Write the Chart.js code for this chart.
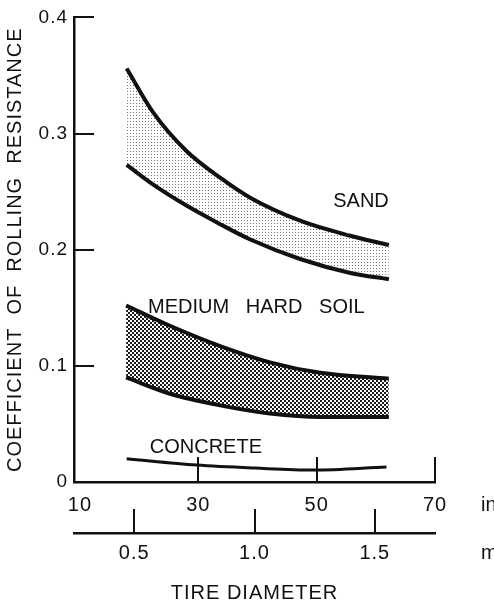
<!DOCTYPE html>
<html>
<head>
<meta charset="utf-8">
<script src="https://cdn.jsdelivr.net/npm/chart.js@4.4.1/dist/chart.umd.min.js"></script>
<style>
  html, body { margin: 0; padding: 0; background: #fff; }
</style>
</head>
<body>
<canvas id="chart" width="494" height="605"></canvas>
<script>
// values: tire diameter (in.) vs coefficient of rolling resistance
const sandDiam = [17.9, 22.4, 28.0, 33.7, 38.7, 47.2, 55.7, 62.2];
const sandHigh = [0.356, 0.318, 0.285, 0.262, 0.245, 0.225, 0.212, 0.204];
const sandLow = [0.273, 0.256, 0.238, 0.222, 0.209, 0.192, 0.180, 0.1745];

const soilDiam = [17.8, 25.2, 33.7, 42.1, 50.6, 62.2];
const soilHigh = [0.152, 0.1345, 0.117, 0.103, 0.094, 0.089];
const soilLow = [0.090, 0.076, 0.066, 0.059, 0.056, 0.056];

const concreteDiam = [17.9, 29.7, 39.6, 49.4, 61.8];
const concrete = [0.020, 0.0146, 0.012, 0.0103, 0.013];

const yTicks = [0, 0.1, 0.2, 0.3, 0.4];
const yTickLabels = ['0', '0.1', '0.2', '0.3', '0.4'];
const inchTicks = [10, 30, 50, 70];
const meterTicks = [0.5, 1.0, 1.5];
const meterTickLabels = ['0.5', '1.0', '1.5'];

const curveLabels = [
  { text: 'SAND', x: 52.8, y: 0.2415 },
  { text: 'MEDIUM   HARD   SOIL', x: 21.5, y: 0.150 },
  { text: 'CONCRETE', x: 21.8, y: 0.030 }
];

const ink = '#111';
const font = "'Liberation Sans', Arial, sans-serif";

document.addEventListener('DOMContentLoaded', () => {
  const canvas = document.getElementById('chart');
  const ctx = canvas.getContext('2d');

  // screen-tone fills
  const makePattern = (size, cells, color) => {
    const c = document.createElement('canvas');
    c.width = c.height = size;
    const g = c.getContext('2d');
    g.fillStyle = '#fff';
    g.fillRect(0, 0, size, size);
    g.fillStyle = color;
    cells.forEach(([x, y, w, h]) => g.fillRect(x, y, w, h));
    return ctx.createPattern(c, 'repeat');
  };
  const sandTone = makePattern(3, [[1, 1, 1, 1]], '#777');
  const soilTone = makePattern(4, [[0, 0, 2, 2], [2, 2, 2, 2]], '#1a1a1a');

  const pts = (xs, ys) => xs.map((x, i) => ({ x, y: ys[i] }));

  const line = (data, width, fill, bg) => ({
    data,
    borderColor: ink,
    borderWidth: width,
    pointRadius: 0,
    cubicInterpolationMode: 'monotone',
    fill,
    backgroundColor: bg || 'transparent'
  });

  // ticks pointing inward, unit labels and curve names
  const axisMarks = {
    id: 'axisMarks',
    beforeDraw(chart) { chart.ctx.letterSpacing = '1px'; },
    afterDraw(chart) {
      const { ctx, scales: { x, x2, y } } = chart;
      ctx.save();
      ctx.letterSpacing = '0px';
      ctx.strokeStyle = ink;
      ctx.lineWidth = 2;
      ctx.beginPath();
      y.ticks.forEach(t => {
        const py = Math.round(y.getPixelForValue(t.value));
        ctx.moveTo(y.right, py);
        ctx.lineTo(y.right + 20, py);
      });
      x.ticks.slice(1).forEach(t => {
        const px = Math.round(x.getPixelForValue(t.value));
        ctx.moveTo(px, x.top);
        ctx.lineTo(px, x.top - 25);
      });
      x2.ticks.forEach(t => {
        const px = Math.round(x2.getPixelForValue(t.value));
        ctx.moveTo(px, x2.top);
        ctx.lineTo(px, x2.top - 24);
      });
      ctx.stroke();

      ctx.fillStyle = ink;
      ctx.font = `20px ${font}`;
      ctx.textBaseline = 'middle';
      ctx.textAlign = 'left';
      curveLabels.forEach(l => ctx.fillText(l.text, x.getPixelForValue(l.x), y.getPixelForValue(l.y)));
      ctx.fillText('in.', x.right + 46, x.top + 23);
      ctx.fillText('m', x2.right + 46, x2.top + 20);
      ctx.restore();
    }
  };

  Chart.defaults.font.family = font;
  Chart.defaults.color = ink;

  new Chart(canvas, {
    type: 'line',
    data: {
      datasets: [
        line(pts(sandDiam, sandHigh), 4, '+1', sandTone),
        line(pts(sandDiam, sandLow), 4, false),
        line(pts(soilDiam, soilHigh), 4, '+1', soilTone),
        line(pts(soilDiam, soilLow), 4, false),
        line(pts(concreteDiam, concrete), 3, false)
      ]
    },
    options: {
      responsive: false,
      animation: false,
      layout: { padding: { top: 15, right: 59, left: 0, bottom: 0 } },
      plugins: {
        legend: { display: false },
        tooltip: { enabled: false },
        filler: { drawTime: 'beforeDatasetsDraw' }
      },
      scales: {
        x: {
          type: 'linear',
          position: 'bottom',
          weight: 0,
          min: 9, max: 70,
          afterBuildTicks: s => { s.ticks = inchTicks.map(v => ({ value: v })); },
          afterFit: s => { s.height = 51; },
          grid: { display: false, drawTicks: false },
          border: { display: true, color: ink, width: 2.5 },
          ticks: { font: { size: 20 }, padding: 11, maxRotation: 0, autoSkip: false }
        },
        x2: {
          type: 'linear',
          position: 'bottom',
          weight: 1,
          min: 0.25, max: 1.75,
          afterBuildTicks: s => { s.ticks = meterTicks.map(v => ({ value: v })); },
          afterFit: s => { s.height = 72; },
          grid: { display: false, drawTicks: false },
          border: { display: true, color: ink, width: 2.5 },
          ticks: {
            font: { size: 20 }, padding: 8, maxRotation: 0, autoSkip: false,
            callback: v => meterTickLabels[meterTicks.indexOf(v)]
          },
          title: { display: true, text: 'TIRE DIAMETER', font: { size: 20 }, padding: { top: 0, bottom: 0 } }
        },
        y: {
          min: 0, max: 0.4,
          afterBuildTicks: s => { s.ticks = yTicks.map(v => ({ value: v })); },
          afterFit: s => { s.width = 74; },
          grid: { display: false, drawTicks: false },
          border: { display: true, color: ink, width: 2.5 },
          ticks: {
            font: { size: 19 }, padding: 6, autoSkip: false,
            callback: v => yTickLabels[yTicks.indexOf(v)]
          },
          title: {
            display: true, text: 'COEFFICIENT  OF  ROLLING  RESISTANCE',
            font: { size: 20 }, padding: { top: 3, bottom: 0 }
          }
        }
      }
    },
    plugins: [axisMarks]
  });
});
</script>
</body>
</html>
